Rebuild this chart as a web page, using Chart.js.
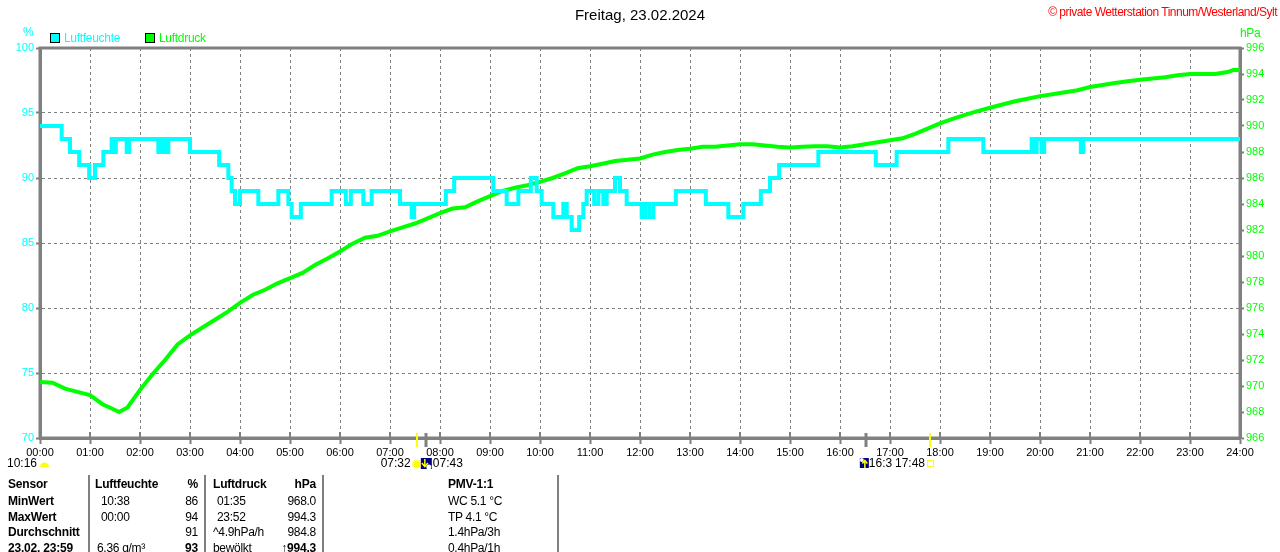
<!DOCTYPE html>
<html>
<head>
<meta charset="utf-8">
<script src="https://cdn.jsdelivr.net/npm/chart.js@4.4.1/dist/chart.umd.min.js"></script>
<style>
  html, body { margin: 0; padding: 0; background: #fff; }
  #wrap { position: relative; width: 1280px; height: 552px; overflow: hidden; font-family: 'Liberation Sans', Arial, sans-serif; }
  #c { position: absolute; left: 0; top: 0; }
  .t { position: absolute; white-space: nowrap; font-size: 12px; line-height: 16px; letter-spacing: -0.3px; color: #000; }
  .b { font-weight: bold; letter-spacing: -0.2px; }
  .sep { position: absolute; width: 2px; background: #808080; top: 475px; height: 77px; }
  .box { position: absolute; width: 10px; height: 10px; box-sizing: border-box; border: 1px solid #000; top: 33px; }
</style>
</head>
<body>
<div id="wrap">
  <canvas id="c" width="1280" height="552"></canvas>
  <div class="t" style="left:0;width:1280px;text-align:center;top:6px;font-size:15px;line-height:18px;letter-spacing:0;">Freitag, 23.02.2024</div>
  <div class="t" style="right:3px;top:4px;color:#FF0000;letter-spacing:-0.5px;">© private Wetterstation Tinnum/Westerland/Sylt</div>
  <div class="t" style="left:23px;top:24px;color:#00FFFF;">%</div>
  <div class="t" style="left:1240px;top:25px;color:#00FF00;">hPa</div>
  <div class="box" style="left:50px;background:#00FFFF;"></div>
  <div class="t" style="left:64px;top:30px;color:#00FFFF;">Luftfeuchte</div>
  <div class="box" style="left:145px;background:#00FF00;"></div>
  <div class="t" style="left:159px;top:30px;color:#00FF00;">Luftdruck</div>

  <div class="sep" style="left:88px;"></div>
  <div class="sep" style="left:204px;"></div>
  <div class="sep" style="left:322px;"></div>
  <div class="sep" style="left:557px;"></div>
  <div id="table"></div>
</div>
<script>
// ---------- data ----------
const hourLabels = ["00:00","01:00","02:00","03:00","04:00","05:00","06:00","07:00","08:00","09:00","10:00","11:00","12:00",
  "13:00","14:00","15:00","16:00","17:00","18:00","19:00","20:00","21:00","22:00","23:00","24:00"];
const humTicks = [70, 75, 80, 85, 90, 95, 100];
const presTicks = [966, 968, 970, 972, 974, 976, 978, 980, 982, 984, 986, 988, 990, 992, 994, 996];

// Luftfeuchte (%), change points of the step line
const humTimes = ["00:00","00:26","00:36","00:47","00:59","01:06","01:16","01:26","01:29","01:31","01:44","01:47",
  "02:22","02:26","02:30","02:34","03:00","03:35","03:46","03:50","03:54","04:00","04:22","04:46","04:58","05:02",
  "05:13","05:50","06:07","06:13","06:28","06:38","07:12","07:26","07:29","08:07","08:17","09:04","09:20","09:34",
  "09:49","09:56","10:02","10:16","10:28","10:32","10:38","10:47","10:52","10:56","11:05","11:10","11:16","11:20",
  "11:30","11:36","11:44","12:02","12:06","12:11","12:16","12:43","13:19","13:46","14:04","14:25","14:36","14:47",
  "15:34","16:43","17:08","18:10","18:52","19:50","19:53","19:56","20:02","20:05","20:49","20:52","24:00"];
const humValues = [94,93,92,91,90,91,92,93,92,93,92,93,
  92,93,92,93,92,91,90,89,88,89,88,89,88,87,
  88,89,88,89,88,89,88,87,88,89,90,89,88,89,
  90,89,88,87,88,87,86,87,88,89,88,89,88,89,
  90,89,88,87,88,87,88,89,88,87,88,89,90,91,
  92,91,92,93,92,93,92,93,92,93,92,93,93];

// Luftdruck (hPa)
const presTimes = ["00:00","00:15","00:30","00:45","01:00","01:15","01:30","01:35","01:45","02:00","02:15","02:30","02:45",
  "03:00","03:15","03:30","03:45","04:00","04:15","04:30","04:45","05:00","05:15","05:30","05:45",
  "06:00","06:15","06:30","06:45","07:00","07:15","07:30","07:45","08:00","08:15","08:30","08:45",
  "09:00","09:15","09:30","09:45","10:00","10:15","10:30","10:45","11:00","11:15","11:30","11:45",
  "12:00","12:15","12:30","12:45","13:00","13:15","13:30","13:45","14:00","14:15","14:30","14:45",
  "15:00","15:15","15:30","15:45","16:00","16:15","16:30","16:45","17:00","17:15","17:30","17:45",
  "18:00","18:15","18:30","18:45","19:00","19:15","19:30","19:45","20:00","20:15","20:30","20:45",
  "21:00","21:15","21:30","21:45","22:00","22:15","22:30","22:45","23:00","23:15","23:30","23:45","23:52","24:00"];
const presValues = [970.3,970.25,969.8,969.55,969.3,968.6,968.15,968.0,968.35,969.7,970.9,972.0,973.2,
  973.9,974.5,975.1,975.7,976.4,977.0,977.4,977.9,978.3,978.7,979.3,979.8,
  980.35,980.95,981.4,981.55,981.9,982.2,982.5,982.9,983.3,983.65,983.75,984.2,
  984.6,985.0,985.25,985.45,985.7,986.0,986.35,986.75,986.9,987.1,987.3,987.4,
  987.5,987.8,988.0,988.15,988.25,988.4,988.4,988.5,988.6,988.6,988.5,988.4,
  988.35,988.4,988.45,988.45,988.35,988.45,988.6,988.75,988.9,989.05,989.4,989.8,
  990.2,990.55,990.85,991.15,991.4,991.65,991.9,992.1,992.3,992.45,992.6,992.75,
  993.0,993.15,993.3,993.45,993.55,993.65,993.75,993.9,994.0,994.0,994.0,994.15,994.3,994.3];

// Sun / moon events
const sunTimes = ["07:32", "17:48"];   // sunrise, sunset
const moonTimes = ["07:43", "16:31"];  // moonset, moonrise
const moonLabel = "10:16";

// Table below chart
const tableRows = [
  ["Sensor", "Luftfeuchte", "%", "Luftdruck", "hPa", "PMV-1:1"],
  ["MinWert", "10:38", "86", "01:35", "968.0", "WC 5.1 °C"],
  ["MaxWert", "00:00", "94", "23:52", "994.3", "TP 4.1 °C"],
  ["Durchschnitt", "", "91", "^4.9hPa/h", "984.8", "1.4hPa/3h"],
  ["23.02. 23:59", "6.36 g/m³", "93", "bewölkt", "↑994.3", "0.4hPa/1h"]
];

// ---------- helpers ----------
const toMin = s => { const p = s.split(':').map(Number); return p[0] * 60 + p[1]; };
const FONT = "'Liberation Sans', Arial, sans-serif";

// ---------- table (HTML text) ----------
(function buildTable() {
  const host = document.getElementById('table');
  const rowTop = [476, 493, 509, 524, 540];
  tableRows.forEach((row, r) => {
    const header = r === 0;
    const cells = [
      {txt: row[0], left: 8, bold: true},
      {txt: row[1], left: header ? 95 : (r === 4 ? 97 : 101), bold: header},
      {txt: row[2], right: 198, bold: header || r === 4},
      {txt: row[3], left: (r === 1 || r === 2) ? 217 : 213, bold: header},
      {txt: row[4], right: 316, bold: header || r === 4},
      {txt: row[5], left: 448, bold: header}
    ];
    cells.forEach(c => {
      if (!c.txt) return;
      const d = document.createElement('div');
      d.className = 't' + (c.bold ? ' b' : '');
      d.textContent = c.txt;
      d.style.top = rowTop[r] + 'px';
      if (c.right !== undefined) { d.style.right = (1280 - c.right) + 'px'; d.style.textAlign = 'right'; }
      else d.style.left = c.left + 'px';
      host.appendChild(d);
    });
  });
})();

// ---------- plugins ----------
const framePlugin = {
  id: 'frame',
  beforeDatasetsDraw(chart) {
    const a = chart.chartArea, ctx = chart.ctx, xs = chart.scales.x;
    ctx.save();
    // short hour ticks crossing the bottom axis (inside part)
    ctx.strokeStyle = '#808080';
    ctx.lineWidth = 2;
    xs.ticks.forEach(t => {
      const x = Math.round(xs.getPixelForValue(t.value));
      ctx.beginPath(); ctx.moveTo(x, a.bottom - 6); ctx.lineTo(x, a.bottom); ctx.stroke();
    });
    ctx.lineWidth = 3;
    ctx.strokeRect(a.left, a.top, a.right - a.left, a.bottom - a.top);
    ctx.restore();
  }
};

const eventsPlugin = {
  id: 'events',
  afterDraw(chart) {
    const ctx = chart.ctx, xs = chart.scales.x, a = chart.chartArea;
    const y0 = a.bottom - 5, y1 = a.bottom + 9;
    ctx.save();
    sunTimes.forEach(t => {
      const x = Math.round(xs.getPixelForValue(toMin(t)));
      ctx.strokeStyle = '#FFFF00'; ctx.lineWidth = 2;
      ctx.beginPath(); ctx.moveTo(x, y0); ctx.lineTo(x, y1); ctx.stroke();
    });
    moonTimes.forEach(t => {
      const x = Math.round(xs.getPixelForValue(toMin(t)));
      ctx.strokeStyle = '#808080'; ctx.lineWidth = 3;
      ctx.beginPath(); ctx.moveTo(x, y0); ctx.lineTo(x, y1); ctx.stroke();
    });

    ctx.font = '12px ' + FONT;
    ctx.fillStyle = '#000';
    ctx.textBaseline = 'middle';
    const ty = 464;

    const x0 = xs.getPixelForValue(0);
    ctx.textAlign = 'right';
    ctx.fillText(moonLabel, x0 - 3, ty);
    ctx.fillStyle = '#FFFF00';
    ctx.beginPath(); ctx.arc(x0 + 4.5, 467, 4.5, Math.PI, 2 * Math.PI); ctx.closePath(); ctx.fill();

    const sr = xs.getPixelForValue(toMin(sunTimes[0]));
    ctx.fillStyle = '#000'; ctx.textAlign = 'right';
    ctx.fillText(sunTimes[0], sr - 6, ty);
    ctx.fillStyle = '#FFFF99';
    ctx.beginPath(); ctx.arc(sr, 464, 5, 0, 2 * Math.PI); ctx.fill();
    ctx.fillStyle = '#FFFF00';
    ctx.beginPath(); ctx.arc(sr, 464, 3.5, 0, 2 * Math.PI); ctx.fill();

    const ms = xs.getPixelForValue(toMin(moonTimes[0]));
    ctx.fillStyle = '#000080';
    ctx.fillRect(ms - 5, 458, 11, 11);
    ctx.fillStyle = '#FFFFFF';
    ctx.beginPath(); ctx.arc(ms + 3, 467, 2.5, 0, 2 * Math.PI); ctx.fill();
    ctx.strokeStyle = '#FFFF00'; ctx.lineWidth = 1.5;
    ctx.beginPath(); ctx.moveTo(ms - 1, 459); ctx.lineTo(ms - 1, 466); ctx.stroke();
    ctx.beginPath(); ctx.moveTo(ms - 4, 463); ctx.lineTo(ms - 1, 466.5); ctx.lineTo(ms + 2, 463); ctx.stroke();
    ctx.fillStyle = '#000'; ctx.textAlign = 'left';
    ctx.fillText(moonTimes[0], ms + 7, ty);

    const mr = xs.getPixelForValue(toMin(moonTimes[1]));
    ctx.fillStyle = '#000080';
    ctx.fillRect(mr - 6, 458, 9, 10);
    ctx.fillStyle = '#FFFFFF';
    ctx.beginPath(); ctx.arc(mr - 4, 460, 2, 0, 2 * Math.PI); ctx.fill();
    ctx.strokeStyle = '#FFFF00'; ctx.lineWidth = 1.5;
    ctx.beginPath(); ctx.moveTo(mr - 1, 468); ctx.lineTo(mr - 1, 461); ctx.stroke();
    ctx.beginPath(); ctx.moveTo(mr - 3.5, 463.5); ctx.lineTo(mr - 1, 460.5); ctx.lineTo(mr + 1.5, 463.5); ctx.stroke();
    ctx.fillStyle = '#000'; ctx.textAlign = 'left';
    ctx.fillText(moonTimes[1].slice(0, 4), mr + 3, ty);

    const ss = xs.getPixelForValue(toMin(sunTimes[1]));
    ctx.textAlign = 'right';
    ctx.fillText(sunTimes[1], ss - 5, ty);
    ctx.strokeStyle = '#FFFF00'; ctx.lineWidth = 1;
    ctx.strokeRect(ss - 2.5, 460.5, 6, 6);
    ctx.restore();
  }
};

// ---------- chart ----------
const ctx = document.getElementById('c').getContext('2d');
new Chart(ctx, {
  type: 'line',
  data: {
    datasets: [
      {
        label: 'Luftfeuchte',
        data: humTimes.map((t, i) => ({x: toMin(t), y: humValues[i]})),
        yAxisID: 'y',
        borderColor: '#00FFFF',
        borderWidth: 4,
        stepped: true,
        pointRadius: 0,
        fill: false
      },
      {
        label: 'Luftdruck',
        data: presTimes.map((t, i) => ({x: toMin(t), y: presValues[i]})),
        yAxisID: 'y1',
        borderColor: '#00FF00',
        borderWidth: 4,
        tension: 0,
        pointRadius: 0,
        fill: false
      }
    ]
  },
  options: {
    responsive: false,
    animation: false,
    layout: {padding: {top: 48, left: 0, right: 0, bottom: 0}},
    plugins: {legend: {display: false}, tooltip: {enabled: false}, title: {display: false}},
    scales: {
      x: {
        type: 'linear',
        min: 0, max: 1440,
        afterBuildTicks: s => { s.ticks = hourLabels.map(l => ({value: toMin(l)})); },
        afterFit: s => { s.height = 114; },
        ticks: {
          callback: (v, i) => hourLabels[i],
          color: '#000',
          font: {size: 11, family: FONT},
          maxRotation: 0, minRotation: 0, autoSkip: false, padding: 2
        },
        grid: {color: '#808080', lineWidth: 1, tickLength: 6, tickColor: '#808080', tickWidth: 2},
        border: {display: true, color: '#808080', width: 3, dash: [3, 3]}
      },
      y: {
        position: 'left',
        min: 70, max: 100,
        afterBuildTicks: s => { s.ticks = humTicks.map(v => ({value: v})); },
        afterFit: s => { s.width = 40; },
        ticks: {color: '#00FFFF', font: {size: 11, family: FONT}, padding: 2, autoSkip: false},
        grid: {color: '#808080', lineWidth: 1, tickLength: 4, tickColor: '#808080', tickWidth: 2},
        border: {display: true, color: '#808080', width: 3, dash: [3, 3]}
      },
      y1: {
        position: 'right',
        min: 966, max: 996,
        afterBuildTicks: s => { s.ticks = presTicks.map(v => ({value: v})); },
        afterFit: s => { s.width = 40; },
        ticks: {color: '#00FF00', font: {size: 11, family: FONT}, padding: 2, autoSkip: false},
        grid: {drawOnChartArea: false, color: '#808080', tickLength: 4, tickWidth: 2},
        border: {display: true, color: '#808080', width: 3}
      }
    }
  },
  plugins: [framePlugin, eventsPlugin]
});
</script>
</body>
</html>
